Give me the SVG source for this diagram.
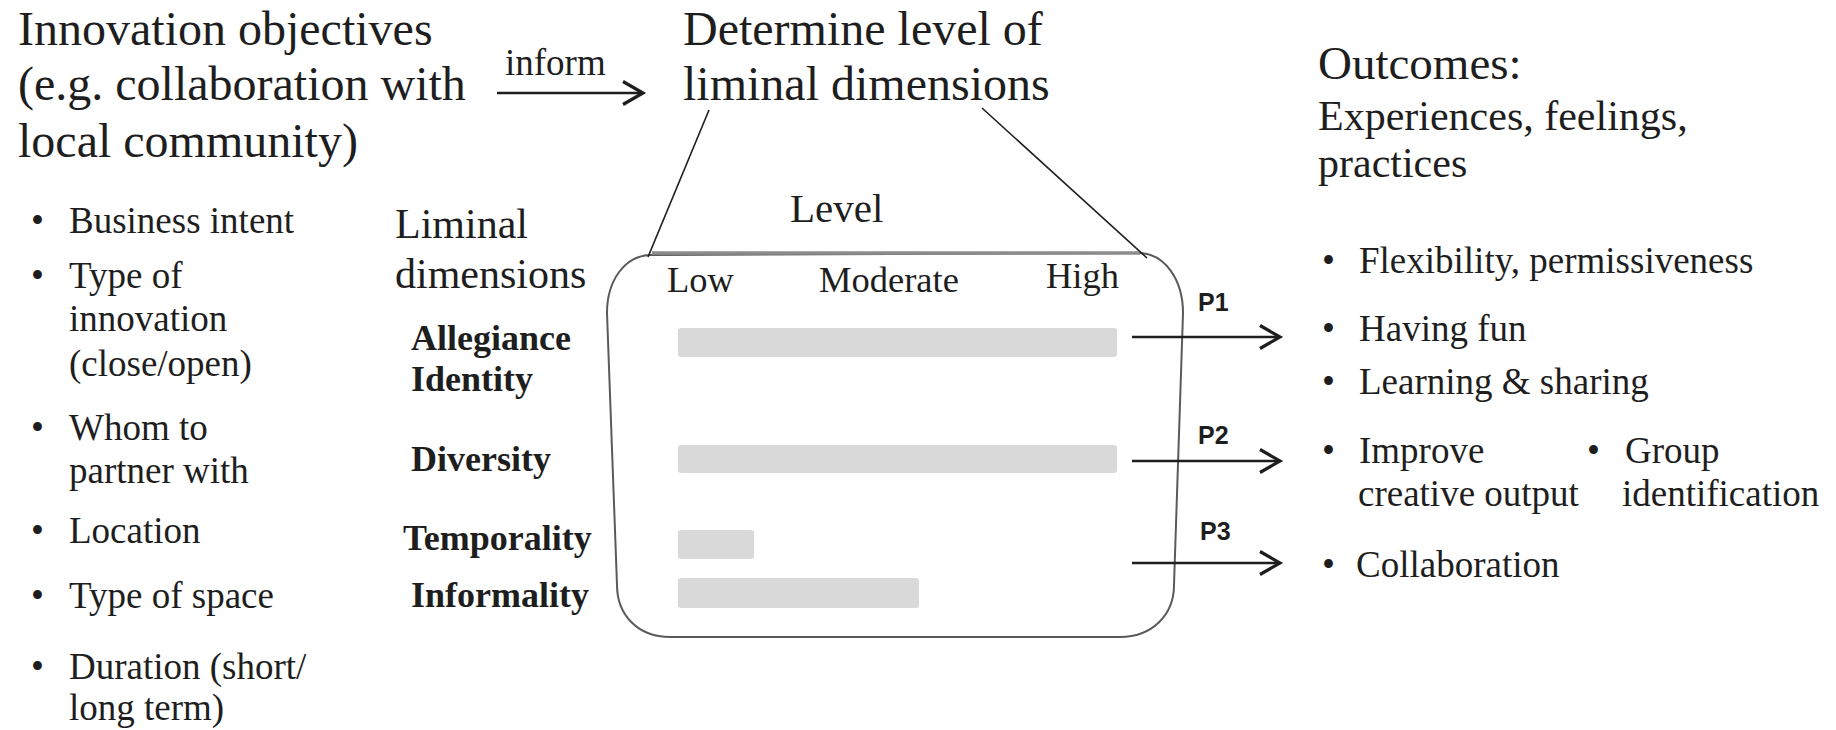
<svg xmlns="http://www.w3.org/2000/svg" width="1836" height="730" viewBox="0 0 1836 730">
<style>
text{font-family:"Liberation Serif","Times New Roman",serif;fill:#1e1e1e}
.t48{font-size:48px}
.t42{font-size:42px}
.t37{font-size:37px}
.b36{font-size:36px;font-weight:bold}
.p{font-family:"Liberation Sans",Arial,sans-serif;font-size:25px;font-weight:bold}
.bar{fill:#d9d9d9}
.ln{stroke:#1e1e1e;stroke-width:2.6;fill:none}
.thin{stroke:#1e1e1e;stroke-width:1.6;fill:none}
</style>
<defs>
<marker id="chev" markerUnits="userSpaceOnUse" markerWidth="26" markerHeight="28" refX="22" refY="13" orient="auto">
<path d="M2,1.5 L22,13 L2,24.5" fill="none" stroke="#1e1e1e" stroke-width="3.2"/>
</marker>
</defs>
<rect width="1836" height="730" fill="#fff"/>

<g id="objectives">
<text class="t48" x="18" y="45">Innovation objectives</text>
<text class="t48" x="18" y="100">(e.g. collaboration with</text>
<text class="t48" x="18" y="157">local community)</text>
</g>

<g id="objective-list" class="t37">
<text x="31" y="233">•</text><text x="69" y="233">Business intent</text>
<text x="31" y="288">•</text><text x="69" y="288">Type of</text>
<text x="69" y="331">innovation</text>
<text x="69" y="376">(close/open)</text>
<text x="31" y="440">•</text><text x="69" y="440">Whom to</text>
<text x="69" y="483">partner with</text>
<text x="31" y="543">•</text><text x="69" y="543">Location</text>
<text x="31" y="608">•</text><text x="69" y="608">Type of space</text>
<text x="31" y="679">•</text><text x="69" y="679">Duration (short/</text>
<text x="69" y="720">long term)</text>
</g>

<g id="determine">
<text class="t48" x="683" y="45">Determine level of</text>
<text class="t48" x="683" y="100">liminal dimensions</text>
</g>

<g id="dimensions-header">
<text class="t42" x="395" y="238">Liminal</text>
<text class="t42" x="395" y="288">dimensions</text>
<text x="790" y="222" style="font-size:41px">Level</text>
</g>

<g id="level-box">
<path d="M650,255 L1138,253 C1165,253 1183,280 1183,313 L1174,585 C1174,615 1152,637 1120,637 L670,637 C638,637 617,615 617,585 L607,313 C607,280 625,256 650,255 Z" fill="none" stroke="#5a5a5a" stroke-width="2"/>
<line x1="652" y1="253" x2="1140" y2="253" stroke="#8c8c8c" stroke-width="3.5"/>
<text x="667" y="292" style="font-size:36.5px">Low</text>
<text x="819" y="292" style="font-size:36.5px">Moderate</text>
<text x="1046" y="288" style="font-size:36.5px">High</text>
<rect class="bar" x="678" y="328" width="439" height="29" rx="3"/>
<rect class="bar" x="678" y="445" width="439" height="28" rx="3"/>
<rect class="bar" x="678" y="530" width="76" height="29" rx="3"/>
<rect class="bar" x="678" y="578" width="241" height="30" rx="3"/>
</g>

<g id="dimension-labels">
<text class="b36" x="411" y="350">Allegiance</text>
<text class="b36" x="411" y="391">Identity</text>
<text class="b36" x="411" y="471">Diversity</text>
<text class="b36" x="403" y="550">Temporality</text>
<text class="b36" x="411" y="607">Informality</text>
</g>

<g id="outcomes">
<text x="1318" y="79" style="font-size:47px">Outcomes:</text>
<text class="t42" x="1318" y="130">Experiences, feelings,</text>
<text class="t42" x="1318" y="177">practices</text>
</g>

<g id="outcome-list" class="t37">
<text x="1322" y="273">•</text><text x="1359" y="273">Flexibility, permissiveness</text>
<text x="1322" y="341">•</text><text x="1359" y="341">Having fun</text>
<text x="1322" y="394">•</text><text x="1359" y="394">Learning &amp; sharing</text>
<text x="1322" y="463">•</text><text x="1359" y="463">Improve</text>
<text x="1358" y="506">creative output</text>
<text x="1587" y="463">•</text><text x="1625" y="463">Group</text>
<text x="1622" y="506">identification</text>
<text x="1322" y="577">•</text><text x="1356" y="577">Collaboration</text>
</g>

<g id="connectors">
<line class="ln" x1="497" y1="93" x2="643" y2="93" marker-end="url(#chev)"/>
<text x="505" y="75" style="font-size:37px">inform</text>
<line class="thin" x1="709" y1="110" x2="648" y2="257"/>
<line class="thin" x1="982" y1="108" x2="1147" y2="258"/>
<line class="ln" x1="1132" y1="337" x2="1280" y2="337" marker-end="url(#chev)"/>
<line class="ln" x1="1132" y1="461" x2="1280" y2="461" marker-end="url(#chev)"/>
<line class="ln" x1="1132" y1="563" x2="1280" y2="563" marker-end="url(#chev)"/>
<text class="p" x="1198" y="311">P1</text>
<text class="p" x="1198" y="444">P2</text>
<text class="p" x="1200" y="540">P3</text>
</g>
</svg>
